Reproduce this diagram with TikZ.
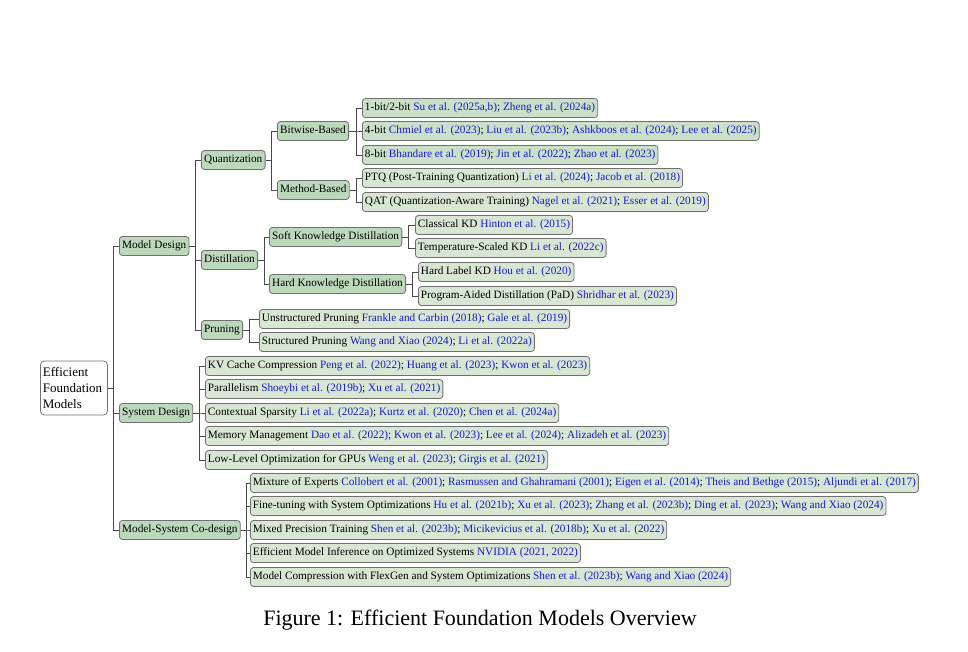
\documentclass[tikz,border=0pt]{standalone}
\usepackage{fontspec}
\setmainfont{Liberation Serif}
\definecolor{intgreen}{RGB}{189,217,187}
\definecolor{leafgreen}{RGB}{215,231,211}
\definecolor{bitgreen}{RGB}{203,224,200}
\definecolor{boxborder}{RGB}{112,112,112}
\definecolor{linegray}{RGB}{72,72,72}
\definecolor{citeblue}{RGB}{25,25,205}
\newcommand{\ct}[1]{\textcolor{citeblue}{#1}}
\begin{document}
\begin{tikzpicture}[x=1pt,y=-1pt,
  basebox/.style={draw=boxborder, line width=0.8pt, rounded corners=3pt, anchor=west,
    font=\fontsize{11.25}{13}\selectfont, inner xsep=2.8pt, inner ysep=0pt,
    text height=8pt, text depth=2.5pt, minimum height=19pt},
  innerbox/.style={basebox, fill=intgreen},
  leafbox/.style={basebox, fill=leafgreen, inner xsep=2.5pt},
  bitbox/.style={basebox, fill=bitgreen, inner xsep=2.5pt},
  rootbox/.style={draw=boxborder, line width=0.8pt, rounded corners=4pt, anchor=west, fill=white,
    font=\fontsize{13}{16}\selectfont, align=left, inner xsep=2pt, inner ysep=3pt,
    minimum width=67pt, minimum height=54pt, text width=62pt},
  conn/.style={draw=linegray, line width=0.9pt},
  caption/.style={font=\fontsize{22}{26}\selectfont}
]
\useasboundingbox (0,0) rectangle (968,652);

% root
\node[rootbox] (efm) at (40,388) {Efficient\\Foundation\\Models};

% level 1
\node[innerbox] (md) at (119,246) {Model Design};
\node[innerbox] (sd) at (119,413) {System Design};
\node[innerbox] (co) at (119,530) {Model-System Co-design};

% level 2
\node[innerbox] (qz) at (201,160) {Quantization};
\node[innerbox] (di) at (201,260) {Distillation};
\node[innerbox] (pr) at (201,330) {Pruning};

% level 3
\node[innerbox] (bw) at (277,131) {Bitwise-Based};
\node[innerbox] (mb) at (277,190) {Method-Based};
\node[innerbox] (skd) at (269,237) {Soft Knowledge Distillation};
\node[innerbox] (hkd) at (269,284) {Hard Knowledge Distillation};

% quantization leaves
\node[bitbox] (b1) at (362,108) {1-bit/2-bit \ct{Su et al. (2025a,b)}; \ct{Zheng et al. (2024a)}};
\node[bitbox] (b4) at (362,131) {4-bit \ct{Chmiel et al. (2023)}; \ct{Liu et al. (2023b)}; \ct{Ashkboos et al. (2024)}; \ct{Lee et al. (2025)}};
\node[bitbox] (b8) at (362,155) {8-bit \ct{Bhandare et al. (2019)}; \ct{Jin et al. (2022)}; \ct{Zhao et al. (2023)}};
\node[leafbox] (ptq) at (362,178) {PTQ (Post-Training Quantization) \ct{Li et al. (2024)}; \ct{Jacob et al. (2018)}};
\node[leafbox] (qat) at (362,202) {QAT (Quantization-Aware Training) \ct{Nagel et al. (2021)}; \ct{Esser et al. (2019)}};

% distillation leaves
\node[leafbox] (ckd) at (415,225) {Classical KD \ct{Hinton et al. (2015)}};
\node[leafbox] (tkd) at (415,248) {Temperature-Scaled KD \ct{Li et al. (2022c)}};
\node[leafbox] (hlkd) at (418,272) {Hard Label KD \ct{Hou et al. (2020)}};
\node[leafbox] (pad) at (418,296) {Program-Aided Distillation (PaD) \ct{Shridhar et al. (2023)}};

% pruning leaves
\node[leafbox] (up) at (259,319) {Unstructured Pruning \ct{Frankle and Carbin (2018)}; \ct{Gale et al. (2019)}};
\node[leafbox] (sp) at (259,342) {Structured Pruning \ct{Wang and Xiao (2024)}; \ct{Li et al. (2022a)}};

% system design leaves
\node[leafbox] (kv) at (205,366) {KV Cache Compression \ct{Peng et al. (2022)}; \ct{Huang et al. (2023)}; \ct{Kwon et al. (2023)}};
\node[leafbox] (par) at (205,389) {Parallelism \ct{Shoeybi et al. (2019b)}; \ct{Xu et al. (2021)}};
\node[leafbox] (cs) at (205,413) {Contextual Sparsity \ct{Li et al. (2022a)}; \ct{Kurtz et al. (2020)}; \ct{Chen et al. (2024a)}};
\node[leafbox] (mm) at (205,436) {Memory Management \ct{Dao et al. (2022)}; \ct{Kwon et al. (2023)}; \ct{Lee et al. (2024)}; \ct{Alizadeh et al. (2023)}};
\node[leafbox] (llo) at (205,460) {Low-Level Optimization for GPUs \ct{Weng et al. (2023)}; \ct{Girgis et al. (2021)}};

% co-design leaves
\node[leafbox] (moe) at (250,483) {Mixture of Experts \ct{Collobert et al. (2001)}; \ct{Rasmussen and Ghahramani (2001)}; \ct{Eigen et al. (2014)}; \ct{Theis and Bethge (2015)}; \ct{Aljundi et al. (2017)}};
\node[leafbox] (ft) at (250,506) {Fine-tuning with System Optimizations \ct{Hu et al. (2021b)}; \ct{Xu et al. (2023)}; \ct{Zhang et al. (2023b)}; \ct{Ding et al. (2023)}; \ct{Wang and Xiao (2024)}};
\node[leafbox] (mpt) at (250,530) {Mixed Precision Training \ct{Shen et al. (2023b)}; \ct{Micikevicius et al. (2018b)}; \ct{Xu et al. (2022)}};
\node[leafbox] (emi) at (250,553) {Efficient Model Inference on Optimized Systems \ct{NVIDIA (2021, 2022)}};
\node[leafbox] (mc) at (250,577) {Model Compression with FlexGen and System Optimizations \ct{Shen et al. (2023b)}; \ct{Wang and Xiao (2024)}};

% caption
\node[caption] (cap) at (480,620) {Figure 1: Efficient Foundation Models Overview};

% connectors
\foreach \c in {md,sd,co} \draw[conn] (efm.east) -- ++(6,0) |- (\c.west);
\foreach \c in {qz,di,pr} \draw[conn] (md.east) -- ++(6,0) |- (\c.west);
\foreach \c in {bw,mb} \draw[conn] (qz.east) -- ++(6,0) |- (\c.west);
\foreach \c in {b1,b4,b8} \draw[conn] (bw.east) -- ++(7,0) |- (\c.west);
\foreach \c in {ptq,qat} \draw[conn] (mb.east) -- ++(7,0) |- (\c.west);
\foreach \c in {skd,hkd} \draw[conn] (di.east) -- ++(6,0) |- (\c.west);
\foreach \c in {ckd,tkd} \draw[conn] (skd.east) -- ++(6,0) |- (\c.west);
\foreach \c in {hlkd,pad} \draw[conn] (hkd.east) -- ++(6,0) |- (\c.west);
\foreach \c in {up,sp} \draw[conn] (pr.east) -- ++(6,0) |- (\c.west);
\foreach \c in {kv,par,cs,mm,llo} \draw[conn] (sd.east) -- ++(6,0) |- (\c.west);
\foreach \c in {moe,ft,mpt,emi,mc} \draw[conn] (co.east) -- ++(6,0) |- (\c.west);
\end{tikzpicture}
\end{document}
